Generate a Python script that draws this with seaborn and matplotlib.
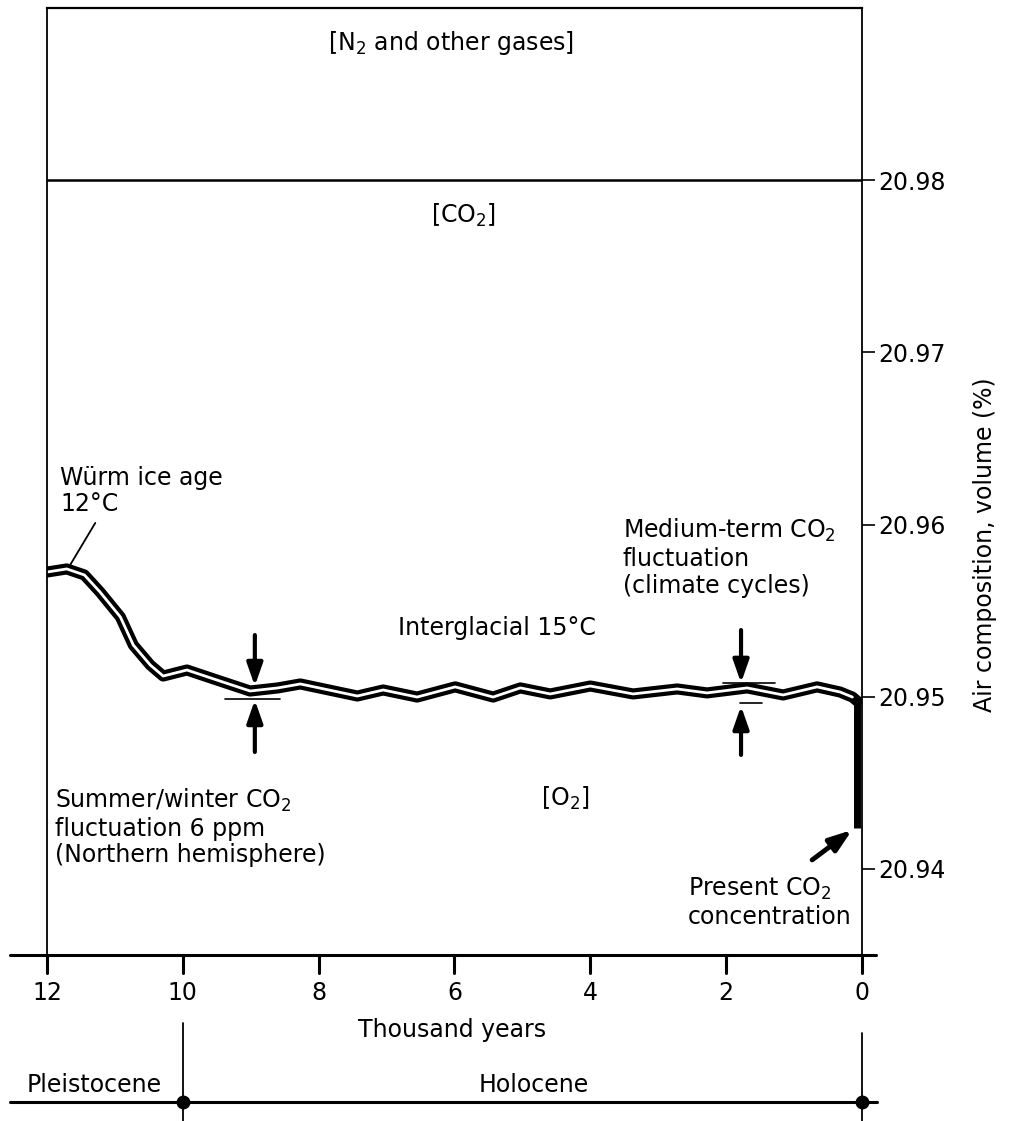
#%%
import pandas as pd
import seaborn as sns
import matplotlib.pyplot as plt
import matplotlib.transforms as mtrans

sns.set_theme(style="white")
plt.rcParams['font.family'] = ['DejaVu Sans']
plt.rcParams['mathtext.fontset'] = 'dejavusans'
plt.rcParams['font.size'] = 17
plt.rcParams['text.color'] = 'black'
plt.rcParams['xtick.color'] = 'black'
plt.rcParams['ytick.color'] = 'black'

# %% valores (mil anos antes do presente, % volume)
years = [12.0, 11.71, 11.45, 11.22, 10.92, 10.73, 10.48, 10.29, 9.94, 9.5,
         9.01, 8.6, 8.27, 7.85, 7.43, 7.05, 6.55, 5.99, 5.43, 5.03, 4.59,
         4.0, 3.37, 2.72, 2.28, 1.69, 1.16, 0.66, 0.32, 0.14, 0.07]
co2_level = [20.95724, 20.95742, 20.95707, 20.95608, 20.95463, 20.95300,
             20.95184, 20.95120, 20.95155, 20.95097, 20.95033, 20.95051,
             20.95074, 20.95039, 20.95004, 20.95039, 20.94998, 20.95057,
             20.94998, 20.95051, 20.95016, 20.95062, 20.95016, 20.95045,
             20.95022, 20.95051, 20.95010, 20.95057, 20.95027, 20.94998,
             20.94975]
drop_year = [0.07, 0.07]
drop_level = [20.94975, 20.94238]

x_ticks = [12, 10, 8, 6, 4, 2, 0]
y_ticks = [20.94, 20.95, 20.96, 20.97, 20.98]
y_range = [20.935, 20.99]
gas_border = 20.98

epoch_edges = [10, 0]
epoch_names = ['Pleistocene', 'Holocene']

# setas das flutuacoes
arrow_x = [8.94, 8.94, 1.78, 1.78]
arrow_from = [20.95358, 20.94679, 20.95387, 20.94662]
arrow_to = [20.95062, 20.94981, 20.95080, 20.94946]
bar_left = [9.38, 2.04, 1.79]
bar_right = [8.57, 1.28, 1.47]
bar_level = [20.94987, 20.95080, 20.94963]

notes = ['[N$_2$ and other gases]', '[CO$_2$]', 'Würm ice age\n12°C',
         'Medium-term CO$_2$\nfluctuation\n(climate cycles)',
         'Interglacial 15°C',
         'Summer/winter CO$_2$\nfluctuation 6 ppm\n(Northern hemisphere)',
         '[O$_2$]', 'Present CO$_2$\nconcentration']
note_x = [6.05, 5.87, 11.81, 3.52, 6.83, 11.88, 4.37, 2.56]
note_y = [20.98797, 20.97798, 20.96195, 20.95809, 20.95399, 20.94243,
          20.94412, 20.93805]
note_ha = ['center', 'center', 'left', 'left', 'left', 'left', 'center', 'left']

# %%
fig = plt.figure(figsize=(10.14, 11.21), dpi=100)
ax = fig.add_axes([0.0464, 0.1481, 0.8036, 0.8448])

curve = pd.DataFrame({'years': years, 'co2': co2_level})
sns.lineplot(data=curve, x='years', y='co2', color='black', lw=8,
             sort=False, estimator=None, ax=ax, solid_joinstyle='round')
sns.lineplot(data=curve.iloc[:-1], x='years', y='co2', color='white', lw=2,
             sort=False, estimator=None, ax=ax, solid_joinstyle='round')
ax.plot(drop_year, drop_level, color='black', lw=5, solid_capstyle='butt')

ax.axhline(gas_border, color='black', lw=1.8)

for x, y0, y1 in zip(arrow_x, arrow_from, arrow_to):
    ax.annotate('', xy=(x, y1), xytext=(x, y0),
                arrowprops=dict(arrowstyle='-|>,head_length=0.8,head_width=0.28',
                                lw=3, color='black', shrinkA=0, shrinkB=0))
for x0, x1, y in zip(bar_left, bar_right, bar_level):
    ax.plot([x0, x1], [y, y], color='black', lw=1.2)

# seta do CO2 atual e linha do Wurm
ax.annotate('', xy=(0.144, 20.94226), xytext=(0.733, 20.94052),
            arrowprops=dict(arrowstyle='-|>,head_length=0.8,head_width=0.28',
                            lw=3.5, color='black', shrinkA=0, shrinkB=0))
ax.plot([11.29, 11.66], [20.96009, 20.95765], color='black', lw=1.3)

for txt, x, y, ha in zip(notes, note_x, note_y, note_ha):
    ax.text(x, y, txt, ha=ha, va='center', fontsize=17, linespacing=1.15)

ax.set_xlim(12, 0)
ax.set_ylim(*y_range)
ax.set_xticks(x_ticks)
ax.set_xticklabels([str(t) for t in x_ticks])
ax.set_yticks(y_ticks)
ax.set_yticklabels([f'{t:.2f}' for t in y_ticks])
ax.yaxis.tick_right()
ax.tick_params(axis='y', direction='out', length=9.5, width=1.2, pad=2,
               labelsize=17, right=True, left=False, colors='black')
ax.xaxis.tick_bottom()
ax.tick_params(axis='x', direction='out', length=13, width=2, pad=6,
               labelsize=17, bottom=True, colors='black')
ax.set(xlabel='', ylabel='')
for side in ['left', 'right', 'top']:
    ax.spines[side].set_color('black')
    ax.spines[side].set_linewidth(1.3)
ax.spines['top'].set_linewidth(1.6)
ax.spines['bottom'].set_visible(False)

# eixo x estendido para fora da caixa, com os tracos dos ticks
trans = mtrans.blended_transform_factory(ax.transData, ax.transAxes)
ax.plot([12.545, -0.21], [0, 0], transform=trans, clip_on=False,
        color='black', lw=2.2)
for t in x_ticks:
    ax.plot([t, t], [-0.019, 0], transform=trans, clip_on=False,
            color='black', lw=2.2)

ax.text(0.497, -0.079, 'Thousand years', transform=ax.transAxes,
        ha='center', va='center', fontsize=17)
ax.text(1.151, 0.433, 'Air composition, volume (%)', transform=ax.transAxes,
        ha='center', va='center', rotation=90, fontsize=17)

# barra das epocas
ax.plot([12.545, -0.22], [-0.155, -0.155], transform=trans, clip_on=False,
        color='black', lw=2.2)
for e, top in zip(epoch_edges, [-0.0718, -0.0824]):
    ax.plot([e, e], [top, -0.18], transform=trans, clip_on=False,
            color='black', lw=1.3)
ax.plot(epoch_edges, [-0.155, -0.155], 'o', color='black', ms=9,
        transform=trans, clip_on=False)
for name, x in zip(epoch_names, [11.31, 4.83]):
    ax.text(x, -0.137, name, transform=trans, ha='center', va='center',
            fontsize=17)

fig.savefig('out.png', dpi=100)
